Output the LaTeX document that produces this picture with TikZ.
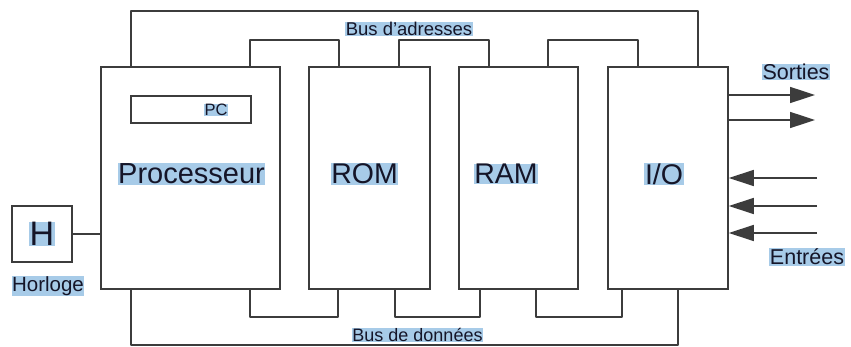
\documentclass[tikz,border=0pt]{standalone}
\usepackage{fontspec}
\setmainfont{Liberation Sans}
\usetikzlibrary{arrows.meta}
\definecolor{wire}{HTML}{3C3C3C}
\definecolor{hl}{HTML}{A7CBE8}
\definecolor{ink}{HTML}{151528}
\begin{document}
\begin{tikzpicture}[x=1pt,y=-1pt,
  box/.style={draw=wire,line width=1.6pt,fill=white,inner sep=0pt},
  bus/.style={draw=wire,line width=1.6pt,line join=round},
  lbl/.style={fill=hl,text=ink,inner sep=0.6pt},
  sig/.style={draw=wire,line width=1.6pt,-{Triangle[length=25pt,width=16pt]}}]
\useasboundingbox (0,0) rectangle (851,347);

% modules
\node[box,minimum width=179pt,minimum height=222pt] (cpu) at (190.5,178) {};
\node[box,minimum width=121pt,minimum height=222pt] (rom) at (369.5,178) {};
\node[box,minimum width=119pt,minimum height=222pt] (ram) at (518.5,178) {};
\node[box,minimum width=120pt,minimum height=222pt] (io)  at (668,178) {};
\node[box,minimum width=120pt,minimum height=27pt] (pc) at (191,109.5) {};
\node[box,minimum width=60pt,minimum height=56pt] (clk) at (42,234) {};

% address bus taps
\coordinate (a0) at (131,67);  \coordinate (a7) at (698,67);
\coordinate (a1) at (250,67);  \coordinate (a2) at (339,67);
\coordinate (a3) at (399,67);  \coordinate (a4) at (489,67);
\coordinate (a5) at (548,67);  \coordinate (a6) at (638,67);
\draw[bus] (a0) -- ++(0,-56) -| (a7);
\draw[bus] (a1) -- ++(0,-27) -| (a2);
\draw[bus] (a3) -- ++(0,-27) -| (a4);
\draw[bus] (a5) -- ++(0,-27) -| (a6);

% data bus taps
\coordinate (d0) at (131,289); \coordinate (d7) at (678,289);
\coordinate (d1) at (250,289); \coordinate (d2) at (338,289);
\coordinate (d3) at (395,289); \coordinate (d4) at (480,289);
\coordinate (d5) at (536,289); \coordinate (d6) at (622,289);
\draw[bus] (d0) -- ++(0,56) -| (d7);
\draw[bus] (d1) -- ++(0,28) -| (d2);
\draw[bus] (d3) -- ++(0,28) -| (d4);
\draw[bus] (d5) -- ++(0,28) -| (d6);

% clock link
\draw[bus] (clk.east) -- (clk.east -| cpu.west);

% outputs and inputs
\coordinate (o1) at (815,95);  \coordinate (o2) at (815,120);
\coordinate (i1) at (817,178); \coordinate (i2) at (817,206); \coordinate (i3) at (817,233);
\draw[sig] (o1 -| io.east) -- (o1);
\draw[sig] (o2 -| io.east) -- (o2);
\draw[sig] (i1) -- (i1 -| io.east);
\draw[sig] (i2) -- (i2 -| io.east);
\draw[sig] (i3) -- (i3 -| io.east);

% labels
\node[lbl,font=\fontsize{29}{29}\selectfont] (tcpu) at (191.5,174) {Processeur};
\node[lbl,font=\fontsize{28.5}{28.5}\selectfont] (trom) at (364.5,174) {ROM};
\node[lbl,font=\fontsize{28.5}{28.5}\selectfont] (tram) at (506,174) {RAM};
\node[lbl,font=\fontsize{28.5}{28.5}\selectfont] (tio)  at (664,174) {I/O};
\node[lbl,font=\fontsize{16.5}{16.5}\selectfont] (tpc)  at (216,110) {PC};
\node[lbl,font=\fontsize{34}{34}\selectfont] (th)   at (42,234) {H};
\node[lbl,font=\fontsize{20.5}{20.5}\selectfont] (thor) at (48,286) {Horloge};
\node[lbl,font=\fontsize{18.5}{18.5}\selectfont] (tab) at (409,29) {Bus d{\char"0027}adresses};
\node[lbl,font=\fontsize{18}{18}\selectfont] (tdb) at (417.5,335) {Bus de données};
\node[lbl,font=\fontsize{21.5}{21.5}\selectfont] (tout) at (796,72) {Sorties};
\node[lbl,font=\fontsize{21.5}{21.5}\selectfont] (tin)  at (807,257) {Entrées};
\end{tikzpicture}
\end{document}
